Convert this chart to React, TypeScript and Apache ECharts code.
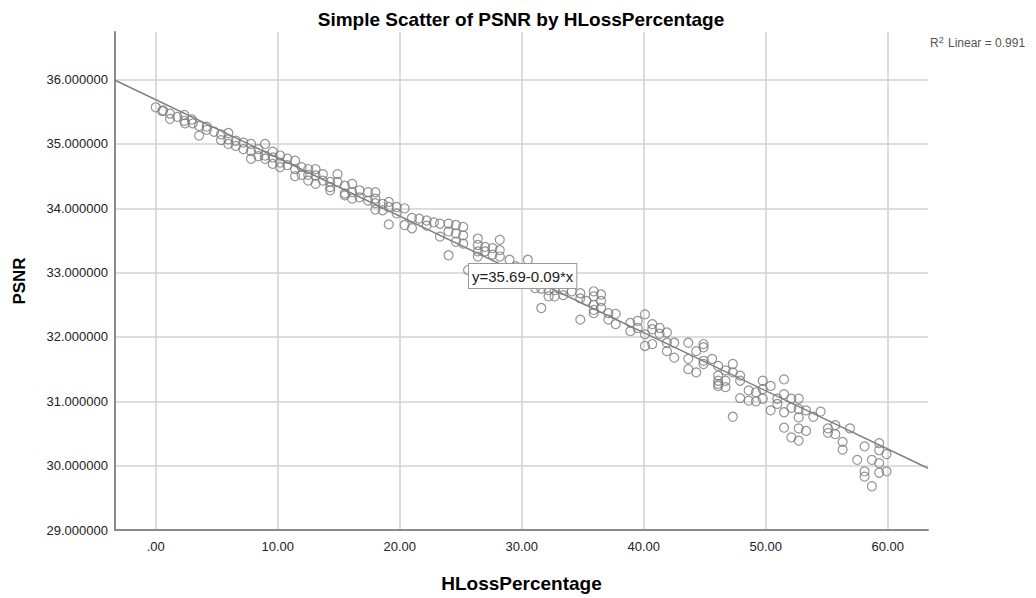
import React, { useEffect, useRef } from "react";
import * as echarts from "echarts";

const title = "Simple Scatter of PSNR by HLossPercentage";
const xName = "HLossPercentage";
const yName = "PSNR";
const equationText = "y=35.69-0.09*x";
const r2Text = "R{sup|2} Linear = 0.991";

const xTickValues = [0, 10, 20, 30, 40, 50, 60];
const xTickLabels = [".00", "10.00", "20.00", "30.00", "40.00", "50.00", "60.00"];
const yTickValues = [29, 30, 31, 32, 33, 34, 35, 36];
const yTickLabels = ["29.000000", "30.000000", "31.000000", "32.000000", "33.000000", "34.000000", "35.000000", "36.000000"];

const hlossPct = [
  0.0, 0.54, 0.6, 1.17, 1.17, 1.77, 2.34, 2.34, 2.4, 2.95, 3.03, 3.55, 3.55, 4.18, 4.18, 4.78, 5.35, 5.35,
  5.95, 5.95, 5.95, 6.56, 6.56, 7.18, 7.18, 7.81, 7.81, 7.81, 8.41, 8.41, 8.96, 8.96, 8.96, 9.59, 9.59, 9.59,
  10.19, 10.19, 10.19, 10.79, 10.79, 11.42, 11.42, 11.42, 11.96, 11.96,
  12.5, 12.5, 12.5, 13.1, 13.1, 13.1, 13.7, 13.7, 14.3, 14.3, 14.3, 14.9, 14.9, 15.5, 15.5, 15.5,
  16.1, 16.1, 16.1, 16.7, 16.7, 17.4, 17.4, 18.0, 18.0, 18.0, 18.0, 18.6, 18.6, 19.1, 19.1, 19.1,
  19.75, 19.75, 20.4, 20.4, 21.0, 21.0, 21.6, 22.2, 22.2, 22.8,
  23.3, 23.3, 24.0, 24.0, 24.0, 24.6, 24.6, 24.6, 25.2, 25.2, 25.2, 25.6, 26.4, 26.4, 26.4, 26.4,
  27.0, 27.0, 27.6, 27.6, 28.2, 28.2, 28.2, 29.0, 29.5, 30.0, 29.8, 30.5, 31.1, 31.1, 31.6, 31.6,
  32.2, 32.2, 32.7, 32.7, 33.4, 33.4, 34.1, 34.8, 34.8, 34.8,
  35.3, 35.9, 35.9, 35.9, 35.9, 35.9, 36.5, 36.5, 36.5, 37.1, 37.1, 37.7, 37.7, 38.9, 38.9, 39.5, 39.5,
  40.1, 40.1, 40.1, 40.7, 40.7, 40.7, 41.3, 41.3, 41.9, 41.9, 41.9, 42.5, 42.5, 43.65, 43.65, 43.65,
  44.3, 44.3, 44.9, 44.9, 44.9, 44.9, 45.6,
  46.1, 46.1, 46.1, 46.1, 46.1, 46.7, 46.7, 46.7, 47.3, 47.3, 47.3, 47.9, 47.9, 47.9, 48.6, 48.6,
  49.2, 49.2, 49.75, 49.75, 49.75, 50.4, 50.4, 50.95, 50.95, 51.5, 51.5, 51.5, 51.5, 52.1, 52.1, 52.1,
  52.7, 52.7, 52.7, 52.7, 52.7, 53.3, 53.3, 53.9, 54.5, 55.1, 55.1, 55.7, 55.7, 56.3, 56.3, 56.9, 57.5,
  58.1, 58.1, 58.1, 58.7, 58.7, 59.3, 59.3, 59.3, 59.3, 59.9, 59.9,
];

const psnr = [
  35.57, 35.51, 35.52, 35.47, 35.39, 35.42, 35.45, 35.36, 35.32, 35.38, 35.32, 35.28, 35.13, 35.27, 35.22, 35.19, 35.15, 35.06,
  35.17, 35.07, 35.0, 35.05, 34.97, 35.02, 34.92, 35.0, 34.89, 34.77, 34.92, 34.81, 35.0, 34.82, 34.77, 34.88, 34.79, 34.69,
  34.82, 34.71, 34.64, 34.77, 34.67, 34.74, 34.61, 34.5, 34.64, 34.52,
  34.61, 34.52, 34.43, 34.61, 34.51, 34.38, 34.53, 34.43, 34.41, 34.28, 34.33, 34.53, 34.41, 34.35, 34.23, 34.2,
  34.38, 34.25, 34.15, 34.28, 34.17, 34.25, 34.12, 34.25, 34.15, 34.08, 33.98, 34.07, 33.97, 34.1, 34.02, 33.75,
  34.02, 33.92, 34.0, 33.74, 33.69, 33.85, 33.84, 33.81, 33.73, 33.78,
  33.76, 33.56, 33.76, 33.64, 33.27, 33.74, 33.61, 33.48, 33.71, 33.58, 33.45, 33.04, 33.53, 33.43, 33.33, 33.25,
  33.4, 33.33, 33.38, 33.28, 33.51, 33.35, 33.25, 33.2, 33.1, 33.05, 32.95, 33.2, 32.76, 32.85, 32.45, 32.75,
  32.73, 32.63, 32.73, 32.63, 32.73, 32.65, 32.71, 32.68, 32.6, 32.27,
  32.56, 32.71, 32.63, 32.5, 32.37, 32.42, 32.66, 32.56, 32.45, 32.37, 32.27, 32.36, 32.2, 32.22, 32.09, 32.25, 32.14,
  32.35, 32.04, 31.86, 32.2, 32.12, 31.89, 32.14, 32.05, 32.07, 31.91, 31.78, 31.91, 31.68, 31.91, 31.66, 31.5,
  31.78, 31.45, 31.89, 31.84, 31.63, 31.58, 31.66,
  31.55, 31.4, 31.32, 31.27, 31.24, 31.48, 31.32, 31.22, 31.58, 31.45, 30.76, 31.4, 31.32, 31.05, 31.17, 31.01,
  31.14, 31.0, 31.32, 31.19, 31.04, 31.24, 30.86, 31.04, 30.96, 31.34, 31.11, 30.83, 30.59, 31.04, 30.9, 30.44,
  31.04, 30.88, 30.75, 30.58, 30.39, 30.86, 30.54, 30.76, 30.84, 30.58, 30.51, 30.63, 30.49, 30.37, 30.25, 30.58, 30.09,
  30.3, 29.91, 29.83, 30.09, 29.68, 30.35, 30.24, 30.04, 29.89, 30.18, 29.91,
];

const fitLineX = [-3.34, 63.3];
const fitLineY = [35.99, 29.96];

const FONT = "'Liberation Sans', Arial, sans-serif";

export default function App() {
  const ref = useRef<HTMLDivElement>(null);
  useEffect(() => {
    document.body.style.margin = "0";
    const chart = echarts.init(ref.current!, null, { renderer: "svg" });
    const points = hlossPct.map((x, i) => [x, psnr[i]]);
    const fit = fitLineX.map((x, i) => [x, fitLineY[i]]);
    chart.setOption({
      animation: false,
      backgroundColor: "#ffffff",
      textStyle: { fontFamily: FONT },
      title: {
        text: title,
        left: 516,
        textAlign: "center",
        top: 5,
        textStyle: { fontFamily: FONT, fontSize: 19, fontWeight: "bold", color: "#000" },
      },
      grid: { left: 115, right: 108, top: 32, bottom: 65, containLabel: false },
      xAxis: {
        type: "value",
        min: -3.34,
        max: 63.3,
        name: xName,
        nameLocation: "middle",
        nameGap: 44,
        nameTextStyle: { fontFamily: FONT, fontSize: 19, fontWeight: "bold", color: "#000" },
        axisLine: { show: true, onZero: false, lineStyle: { color: "#8a8a8a", width: 2 } },
        axisTick: { show: false, customValues: xTickValues },
        axisLabel: {
          customValues: xTickValues,
          margin: 10,
          fontSize: 13,
          color: "#222",
          fontFamily: FONT,
          formatter: (v: number) => xTickLabels[xTickValues.indexOf(v)] ?? "",
        },
        splitLine: { show: true, lineStyle: { color: "#d2d2d2", width: 1.5 } },
      },
      yAxis: {
        type: "value",
        min: 29,
        max: 36.74,
        name: yName,
        nameLocation: "middle",
        nameGap: 87,
        nameRotate: 90,
        nameTextStyle: { fontFamily: FONT, fontSize: 17, fontWeight: "bold", color: "#000" },
        axisLine: { show: true, onZero: false, lineStyle: { color: "#8a8a8a", width: 2 } },
        axisTick: { show: false, customValues: yTickValues },
        axisLabel: {
          customValues: yTickValues,
          margin: 7,
          fontSize: 13,
          color: "#222",
          fontFamily: FONT,
          formatter: (v: number) => yTickLabels[yTickValues.indexOf(v)] ?? "",
        },
        splitLine: { show: true, lineStyle: { color: "#d2d2d2", width: 1.5 } },
      },
      series: [
        {
          type: "line",
          data: fit,
          symbol: "none",
          lineStyle: { color: "#808080", width: 1.5 },
          z: 3,
        },
        {
          type: "scatter",
          data: points,
          symbol: "circle",
          symbolSize: 9,
          itemStyle: { color: "rgba(255,255,255,0)", borderColor: "#7a7a7a", borderWidth: 1.2 },
          z: 2,
        },
      ],
      graphic: [
        {
          type: "text",
          left: 468,
          top: 263,
          z: 10,
          style: {
            text: equationText,
            font: `15px ${FONT}`,
            fill: "#222",
            backgroundColor: "#ffffff",
            borderColor: "#9a9a9a",
            borderWidth: 1,
            padding: [5, 3, 4, 3],
          },
        },
        {
          type: "text",
          left: 930,
          top: 35,
          style: {
            text: r2Text,
            font: `12px ${FONT}`,
            fill: "#555",
            rich: {
              sup: { fontSize: 9, verticalAlign: "top", padding: [0, 1, 6, 0], fill: "#555" },
            },
          },
        },
      ],
    });
    return () => chart.dispose();
  }, []);
  return <div ref={ref} style={{ width: 1036, height: 598 }} />;
}
